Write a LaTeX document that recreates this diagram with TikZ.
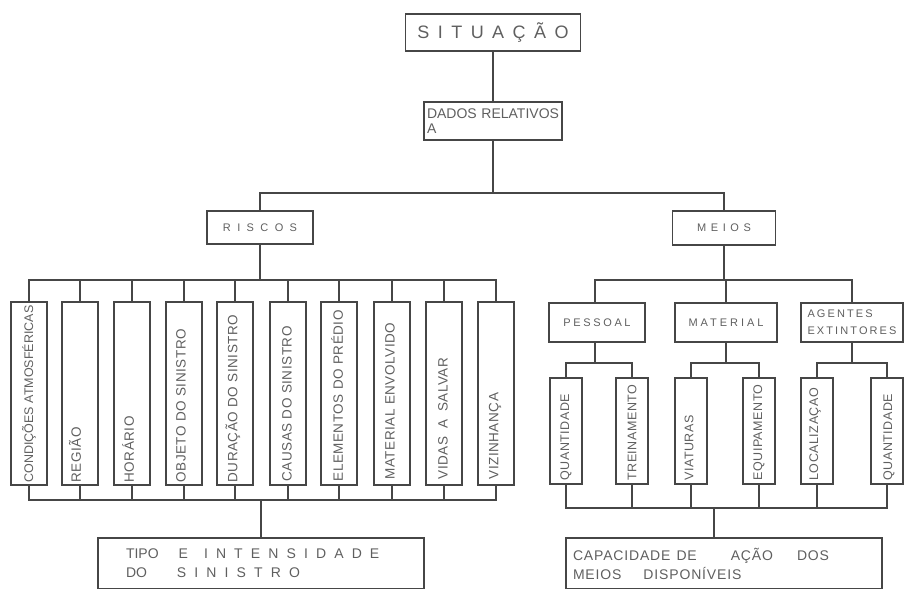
\documentclass[tikz,border=0pt]{standalone}
\usepackage{fontspec}
\setmainfont{Liberation Sans}
\usepackage{tikz}
\usetikzlibrary{positioning, calc}
\definecolor{cLine}{RGB}{70,70,70}
\definecolor{cText}{RGB}{95,95,95}
\newcommand{\spc}[1]{\addfontfeature{LetterSpace=#1}}
\tikzset{
	box/.style={rectangle, draw=cLine, line width=1.4pt, inner sep=0pt, text=cText, align=center, font=\fontsize{11}{17}\selectfont},
	vbox/.style={box, minimum width=36pt, minimum height=183pt},
	sbox/.style={box, minimum width=32pt, minimum height=106pt},
	vtext/.style={rotate=90, anchor=west, text=cText, inner sep=0pt, font=\fontsize{13.5}{15}\selectfont\spc{4}},
	stext/.style={vtext, font=\fontsize{12.5}{14}\selectfont\spc{4}},
	link/.style={draw=cLine, line width=1.4pt},
	% bottom result boxes
	rbox/.style={box, minimum height=51pt, align=left, font=\fontsize{14}{19}\selectfont},
}
\begin{document}
\begin{tikzpicture}[x=1pt, y=-1pt]
	\useasboundingbox (0,0) rectangle (905,589);
	\coordinate (top) at (0,193);
	\coordinate (rtop) at (0,280);
	\coordinate (rbot) at (0,500);
	\coordinate (msub) at (0,363);
	\coordinate (mbot) at (0,508);

	\node[box, minimum width=175pt, minimum height=37pt, font=\fontsize{18}{20}\selectfont] (sit) at (493,32.5) {\spc{47}SITUAÇÃO};
	\node[box, minimum width=138pt, minimum height=38pt, text width=132pt, align=left, font=\fontsize{14}{15}\selectfont] (dados) at (493,121) {DADOS RELATIVOS\\A};

	\node[box, minimum width=106pt, minimum height=33pt] (riscos) at (260,227.5) {\spc{58}RISCOS};
	\node[box, minimum width=103pt, minimum height=34pt] (meios) at (724,228) {\spc{42}MEIOS};

	% riscos
	\node[vbox] (r1) at (29,393.5) {};
	\node[vbox] (r2) at (80,393.5) {};
	\node[vbox] (r3) at (132,393.5) {};
	\node[vbox] (r4) at (184,393.5) {};
	\node[vbox] (r5) at (235,393.5) {};
	\node[vbox] (r6) at (288,393.5) {};
	\node[vbox] (r7) at (339,393.5) {};
	\node[vbox] (r8) at (392,393.5) {};
	\node[vbox] (r9) at (444,393.5) {};
	\node[vbox] (r10) at (496,393.5) {};
	\node[vtext, font=\fontsize{12.5}{14}\selectfont] (r1t) at ([yshift=3pt]r1.south) {CONDIÇÕES ATMOSFÉRICAS};
	\node[vtext] (r2t) at ([xshift=-5pt, yshift=3pt]r2.south) {REGIÃO};
	\node[vtext] (r3t) at ([xshift=-4pt, yshift=3pt]r3.south) {HORÁRIO};
	\node[vtext] (r4t) at ([xshift=-3pt, yshift=3pt]r4.south) {OBJETO DO SINISTRO};
	\node[vtext] (r5t) at ([xshift=-2pt, yshift=3pt]r5.south) {DURAÇÃO DO SINISTRO};
	\node[vtext] (r6t) at ([xshift=-1pt, yshift=4pt]r6.south) {CAUSAS DO SINISTRO};
	\node[vtext] (r7t) at ([xshift=-2pt, yshift=4pt]r7.south) {ELEMENTOS DO PRÉDIO};
	\node[vtext] (r8t) at ([xshift=-2pt, yshift=6pt]r8.south) {MATERIAL ENVOLVIDO};
	\node[vtext] (r9t) at ([xshift=-1pt, yshift=6pt]r9.south) {VIDAS\hspace{8pt}A\hspace{8pt}SALVAR};
	\node[vtext] (r10t) at ([xshift=-1pt, yshift=6pt]r10.south) {VIZINHANÇA};

	% meios
	\node[box, minimum width=96pt, minimum height=39pt] (pess) at (597,322.5) {\spc{24}PESSOAL};
	\node[box, minimum width=102pt, minimum height=39pt] (mat) at (726,322.5) {\spc{27}MATERIAL};
	\node[box, minimum width=102pt, minimum height=39pt, align=left] (agt) at (852,322.5) {\spc{19}AGENTES\\\spc{19}EXTINTORES};
	\node[sbox] (q1) at (566,431) {};
	\node[sbox] (trn) at (632,431) {};
	\node[sbox] (via) at (691,431) {};
	\node[sbox] (eqp) at (759,431) {};
	\node[sbox] (loc) at (817,431) {};
	\node[sbox] (q2) at (887,431) {};
	\node[stext] (q1t) at ([yshift=4pt]q1.south) {QUANTIDADE};
	\node[stext] (trnt) at ([yshift=4pt]trn.south) {TREINAMENTO};
	\node[stext] (viat) at ([xshift=-2pt, yshift=4pt]via.south) {VIATURAS};
	\node[stext] (eqpt) at ([yshift=4pt]eqp.south) {EQUIPAMENTO};
	\node[stext] (loct) at ([xshift=-2pt, yshift=4pt]loc.south) {LOCALIZAÇAO};
	\node[stext] (q2t) at ([xshift=2pt, yshift=4pt]q2.south) {QUANTIDADE};

	\node[rbox, minimum width=326pt, text width=270pt] (tipo) at (261,563.5) {TIPO\hspace{20pt}E\hspace{16pt}{\spc{58}INTENSIDADE}\\DO\hspace{30pt}{\spc{58}SINISTRO}};
	\node[rbox, minimum width=316pt, text width=302pt] (cap) at (724,563.5) {\spc{6}CAPACIDADE\hspace{6pt}DE\hspace{34pt}AÇÃO\hspace{24pt}DOS\\\spc{6}MEIOS\hspace{22pt}DISPONÍVEIS};

	\draw[link] (sit) -- (dados);
	\draw[link] (dados.south) -- (dados.south |- top);
	\draw[link] (riscos.north) -- (riscos.north |- top) -| (meios.north);

	\draw[link] (riscos.south) -- (riscos.south |- rtop);
	\draw[link] (r1.north) -- (r1.north |- rtop) -| (r10.north);
	\draw[link] (r1.south) -- (r1.south |- rbot) -| (r10.south);
	\foreach \n in {2,...,9} {
		\draw[link] (r\n.north) -- (r\n.north |- rtop);
		\draw[link] (r\n.south) -- (r\n.south |- rbot);
	}
	\draw[link] (tipo.north) -- (tipo.north |- rbot);

	\draw[link] (meios.south) -- (meios.south |- rtop);
	\draw[link] ([xshift=-2pt]pess.north) -- ([xshift=-2pt]pess.north |- rtop) -| (agt.north);
	\draw[link] (mat.north) -- (mat.north |- rtop);
	\draw[link] ([xshift=-2pt]pess.south) -- ([xshift=-2pt]pess.south |- msub);
	\draw[link] (mat.south) -- (mat.south |- msub);
	\draw[link] (agt.south) -- (agt.south |- msub);
	\draw[link] (q1.north) -- (q1.north |- msub) -| (trn.north);
	\draw[link] (via.north) -- (via.north |- msub) -| (eqp.north);
	\draw[link] (loc.north) -- (loc.north |- msub) -| (q2.north);
	\draw[link] (q1.south) -- (q1.south |- mbot) -| (q2.south);
	\foreach \n in {trn,via,eqp,loc} {
		\draw[link] (\n.south) -- (\n.south |- mbot);
	}
	\draw[link] ([xshift=-10pt]cap.north) -- ([xshift=-10pt]cap.north |- mbot);
\end{tikzpicture}
\end{document}
